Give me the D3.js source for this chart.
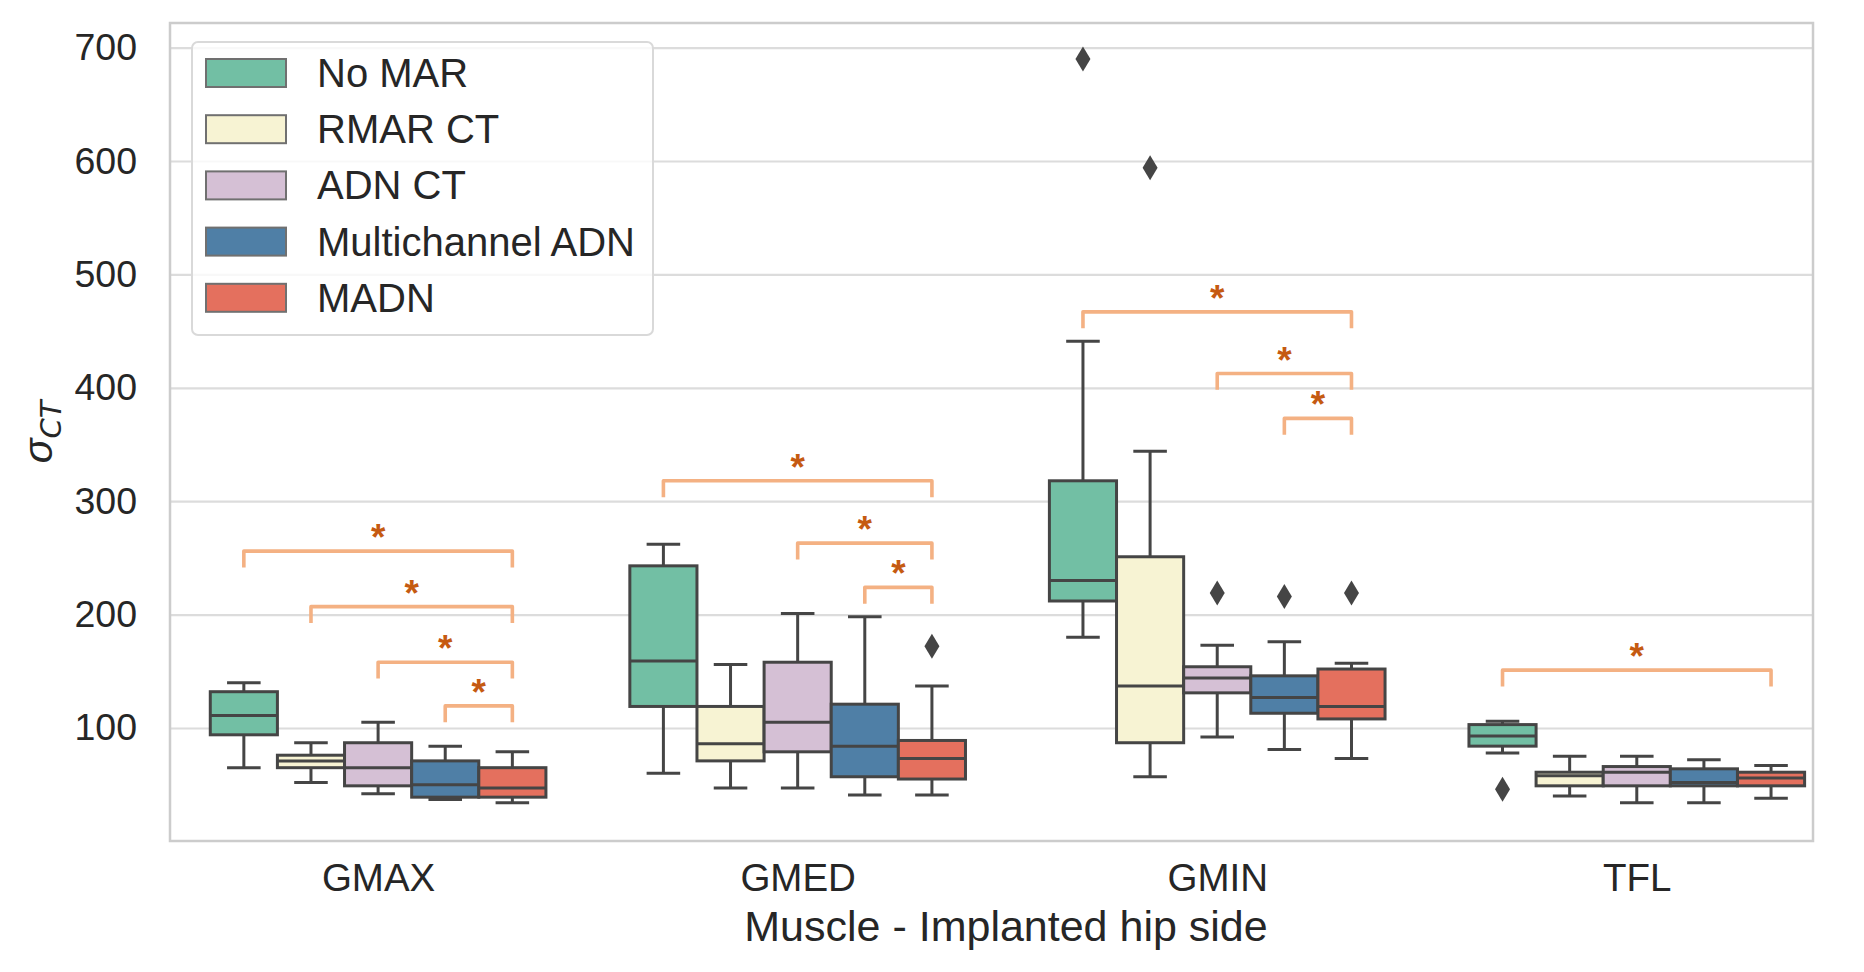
<!DOCTYPE html>
<html>
<head>
<meta charset="utf-8">
<script src="https://cdn.jsdelivr.net/npm/d3@7"></script>
<style>
    body { margin: 0; background: #ffffff; }
    text { font-family: "Liberation Sans", Arial, sans-serif; fill: #262626; }
</style>
</head>
<body>
<svg id="chart" width="1864" height="972"></svg>
<script>
// categories on the x axis and the hue groups
let muscles = ["GMAX", "GMED", "GMIN", "TFL"];
let methods = ["No MAR", "RMAR CT", "ADN CT", "Multichannel ADN", "MADN"];
let colors = ["#72bfa4", "#f7f3d3", "#d5c0d5", "#4f7fa6", "#e4705e"];

// [lower whisker, q1, median, q3, upper whisker] per muscle
let noMar    = [[65, 94, 111, 132, 140], [60, 119, 159, 243, 262], [180, 212, 230, 318, 441], [78, 84, 93, 103, 106]];
let rmarCt   = [[52, 65, 71, 76, 87],    [47, 71, 86, 119, 156],   [57, 87, 137, 251, 344],   [40, 49, 58, 61, 75]];
let adnCt    = [[42, 49, 65, 87, 105],   [47, 79, 105, 158, 201],  [92, 131, 144, 154, 173],  [34, 49, 61, 66, 75]];
let multiAdn = [[37, 39, 50, 71, 84],    [41, 57, 84, 121, 198],   [81, 113, 127, 146, 176],  [34, 49, 52, 64, 72]];
let madn     = [[34, 39, 47, 65, 79],    [41, 55, 73, 89, 137],    [73, 108, 119, 152, 157],  [38, 49, 56, 61, 67]];

// outliers: [muscle index, method index, value]
let outliers = [[1, 4, 172], [2, 0, 690], [2, 1, 594], [2, 2, 219], [2, 3, 216], [2, 4, 219], [3, 0, 46]];

// significance brackets: [muscle index, from method, to method, top of bracket]
let brackets = [
    [0, 0, 4, 256], [0, 1, 4, 207], [0, 2, 4, 158], [0, 3, 4, 119.5],
    [1, 0, 4, 318], [1, 2, 4, 263], [1, 3, 4, 224],
    [2, 0, 4, 467], [2, 2, 4, 412.6], [2, 3, 4, 373],
    [3, 0, 4, 151]
];

let yTicks = [100, 200, 300, 400, 500, 600, 700];

function main() {
    var svg = d3.select("#chart");
    var left = 170, right = 1813, top = 23, bottom = 841;
    var series = [noMar, rmarCt, adnCt, multiAdn, madn];

    var x = d3.scaleLinear().domain([-0.496, 3.42]).range([left, right]);
    var hue = d3.scaleBand().domain(methods).range([-0.4, 0.4]);
    var y = d3.scaleLinear().domain([0.35, 721.7]).range([bottom, top]);
    var color = d3.scaleOrdinal().domain(methods).range(colors);
    var boxW = x(hue.bandwidth()) - x(0);
    var edge = "#454545";
    var lw = 3;

    function cx(mi, gi) {
        return x(mi + hue(methods[gi]) + hue.bandwidth() / 2);
    }

    svg.append("rect").attr("width", 1864).attr("height", 972).attr("fill", "#ffffff");

    // grid
    svg.append("g")
        .attr("transform", "translate(" + left + ",0)")
        .call(d3.axisLeft(y).tickValues(yTicks).tickSize(-(right - left)).tickFormat(""))
        .call(g => g.select(".domain").remove())
        .call(g => g.selectAll("line").attr("stroke", "#dcdcdc").attr("stroke-width", 2.2));

    // y tick labels
    svg.append("g")
        .attr("transform", "translate(" + left + ",0)")
        .call(d3.axisLeft(y).tickValues(yTicks).tickSize(0).tickPadding(33))
        .call(g => g.select(".domain").remove())
        .call(g => g.selectAll("text").attr("font-size", 37.5).attr("fill", "#262626")
            .attr("font-family", "Liberation Sans, Arial, sans-serif"));

    // x tick labels
    svg.append("g")
        .attr("transform", "translate(0," + bottom + ")")
        .call(d3.axisBottom(x).tickValues([0, 1, 2, 3]).tickSize(0).tickPadding(23)
            .tickFormat((d) => muscles[d]))
        .call(g => g.select(".domain").remove())
        .call(g => g.selectAll("text").attr("font-size", 38.5).attr("fill", "#262626")
            .attr("font-family", "Liberation Sans, Arial, sans-serif"));

    // spines
    svg.append("rect")
        .attr("x", left).attr("y", top)
        .attr("width", right - left).attr("height", bottom - top)
        .attr("fill", "none").attr("stroke", "#cccccc").attr("stroke-width", 2.5);

    // boxes
    var rows = [];
    series.forEach(function(s, gi) {
        s.forEach(function(v, mi) {
            rows.push({mi: mi, gi: gi, v: v});
        });
    });

    var boxes = svg.append("g").selectAll("g.box")
        .data(rows).enter().append("g").attr("class", "box");

    boxes.append("line")
        .attr("x1", d => cx(d.mi, d.gi)).attr("x2", d => cx(d.mi, d.gi))
        .attr("y1", d => y(d.v[0])).attr("y2", d => y(d.v[1]))
        .attr("stroke", edge).attr("stroke-width", lw);
    boxes.append("line")
        .attr("x1", d => cx(d.mi, d.gi)).attr("x2", d => cx(d.mi, d.gi))
        .attr("y1", d => y(d.v[3])).attr("y2", d => y(d.v[4]))
        .attr("stroke", edge).attr("stroke-width", lw);
    [0, 4].forEach(function(k) {
        boxes.append("line")
            .attr("x1", d => cx(d.mi, d.gi) - boxW / 4).attr("x2", d => cx(d.mi, d.gi) + boxW / 4)
            .attr("y1", d => y(d.v[k])).attr("y2", d => y(d.v[k]))
            .attr("stroke", edge).attr("stroke-width", lw);
    });
    boxes.append("rect")
        .attr("x", d => cx(d.mi, d.gi) - boxW / 2)
        .attr("y", d => y(d.v[3]))
        .attr("width", boxW)
        .attr("height", d => y(d.v[1]) - y(d.v[3]))
        .attr("fill", d => color(methods[d.gi]))
        .attr("stroke", edge).attr("stroke-width", lw);
    boxes.append("line")
        .attr("x1", d => cx(d.mi, d.gi) - boxW / 2).attr("x2", d => cx(d.mi, d.gi) + boxW / 2)
        .attr("y1", d => y(d.v[2])).attr("y2", d => y(d.v[2]))
        .attr("stroke", edge).attr("stroke-width", lw);

    // outliers as thin diamonds
    var dw = 7.5, dh = 12.5;
    svg.append("g").selectAll("path")
        .data(outliers).enter().append("path")
        .attr("d", "M0," + (-dh) + "L" + dw + ",0L0," + dh + "L" + (-dw) + ",0Z")
        .attr("transform", d => "translate(" + cx(d[0], d[1]) + "," + y(d[2]) + ")")
        .attr("fill", "#454545");

    // significance brackets
    var h = 0.02 * (721.7 - 0.35);
    var br = svg.append("g").selectAll("g")
        .data(brackets).enter().append("g");
    br.append("path")
        .attr("d", function(d) {
            var x1 = cx(d[0], d[1]), x2 = cx(d[0], d[2]);
            return "M" + x1 + "," + y(d[3] - h) + "L" + x1 + "," + y(d[3]) +
                "L" + x2 + "," + y(d[3]) + "L" + x2 + "," + y(d[3] - h);
        })
        .attr("fill", "none").attr("stroke", "#f4b183").attr("stroke-width", 3.6)
        .attr("stroke-linejoin", "round");
    br.append("text")
        .attr("x", d => (cx(d[0], d[1]) + cx(d[0], d[2])) / 2)
        .attr("y", d => y(d[3]) - 1)
        .attr("text-anchor", "middle")
        .attr("font-size", 37)
        .attr("font-weight", "bold")
        .style("fill", "#c55a11")
        .text("*");

    // axis titles
    svg.append("text")
        .attr("x", 1006).attr("y", 941)
        .attr("text-anchor", "middle").attr("font-size", 43)
        .text("Muscle - Implanted hip side");

    var yl = svg.append("text")
        .attr("transform", "translate(52," + ((top + bottom) / 2) + ") rotate(-90)")
        .attr("text-anchor", "middle").attr("font-size", 41)
        .attr("font-family", "DejaVu Serif, serif");
    yl.append("tspan").attr("font-style", "italic").text("σ");
    yl.append("tspan").attr("font-style", "italic").attr("font-size", 29)
        .attr("dy", 9).attr("font-family", "DejaVu Sans, sans-serif").text("CT");

    // legend
    var lg = svg.append("g");
    lg.append("rect")
        .attr("x", 192).attr("y", 42).attr("width", 461).attr("height", 293)
        .attr("rx", 6).attr("fill", "#ffffff").attr("fill-opacity", 0.8)
        .attr("stroke", "#d9d9d9").attr("stroke-width", 2);
    var items = lg.selectAll("g.item")
        .data(methods).enter().append("g").attr("class", "item")
        .attr("transform", (d, i) => "translate(0," + (59 + i * 56.2) + ")");
    items.append("rect")
        .attr("x", 206).attr("y", 0).attr("width", 80).attr("height", 28)
        .attr("fill", d => color(d)).attr("stroke", "#707070").attr("stroke-width", 2);
    items.append("text")
        .attr("x", 317).attr("y", 28)
        .attr("font-size", 40)
        .text(d => d);
}

main();
</script>
</body>
</html>
